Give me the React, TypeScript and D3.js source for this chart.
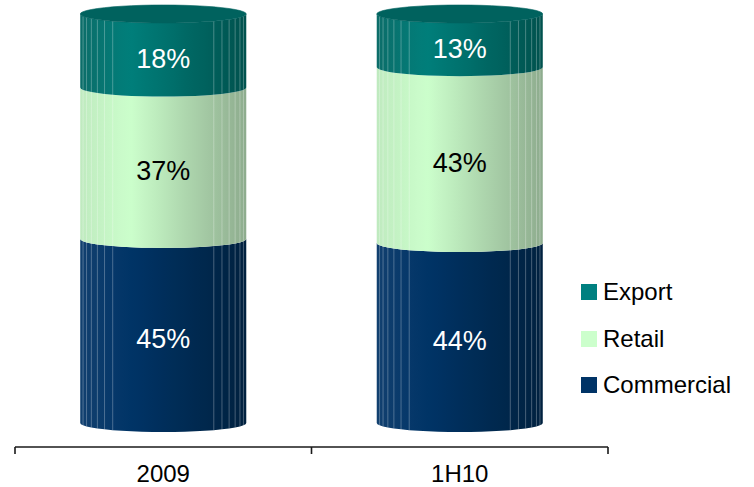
import React from "react";
import * as d3 from "d3";

// Share of sales by channel, in percent
const categories = ["2009", "1H10"];
const commercial = [45, 44];
const retail = [37, 43];
const exportShare = [18, 13];

const seriesOrder = ["Commercial", "Retail", "Export"]; // stacked bottom → top
const legendOrder = ["Export", "Retail", "Commercial"];

const W = 754;
const H = 487;
const FONT = "'Liberation Sans', Arial, sans-serif";

type Palette = { base: string; left: string; peak: string; right: string; top: string; label: string };
const palettes: Record<string, Palette> = {
  Export: { base: "#008080", left: "#0b6d69", peak: "#007f7b", right: "#00524e", top: "#00625e", label: "#ffffff" },
  Retail: { base: "#ccffcc", left: "#bfeabf", peak: "#ccffcc", right: "#8eac8e", top: "#b8e8b8", label: "#000000" },
  Commercial: { base: "#003366", left: "#11406f", peak: "#003467", right: "#00213f", top: "#002c58", label: "#ffffff" },
};

const valuesFor: Record<string, number[]> = {
  Commercial: commercial,
  Retail: retail,
  Export: exportShare,
};

const x = d3.scaleBand<string>().domain(categories).range([15, 608]).padding(0);
const y = d3.scaleLinear().domain([0, 100]).range([423, 14]);

const BAR_FRAC = 0.56;
const RY = 9;
const FACETS = 48;

const stack = d3
  .stack<number>()
  .keys(seriesOrder)
  .value((i, key) => valuesFor[key][i]);
const stacked = stack(d3.range(categories.length));

function shadeScale(p: Palette) {
  return d3
    .scaleLinear<string>()
    .domain([0, 0.3, 1])
    .range([p.left, p.peak, p.right])
    .interpolate(d3.interpolateLab);
}

function Cylinder({ cat, ci }: { cat: string; ci: number }) {
  const bw = x.bandwidth() * BAR_FRAC;
  const cx = (x(cat) ?? 0) + x.bandwidth() / 2;
  const rx = bw / 2;
  const step = (Math.PI * 2) / FACETS;
  const angles = d3.range(FACETS / 2 + 1).map((k) => k * step); // front half, 0..π
  const px = (a: number) => cx + rx * Math.cos(a);
  const py = (a: number, yc: number) => yc + RY * Math.sin(a);

  const defs: React.ReactNode[] = [];
  const pieces: React.ReactNode[] = [];
  const lines: React.ReactNode[] = [];
  const labels: React.ReactNode[] = [];

  stacked.forEach((layer) => {
    const key = layer.key;
    const pal = palettes[key];
    const shade = shadeScale(pal);
    const [v0, v1] = layer[ci];
    const yBot = y(v0);
    const yTop = y(v1);
    const gid = `g-${ci}-${key}`;

    // horizontal shading across the faceted side, one stop per facet edge
    defs.push(
      <linearGradient key={gid} id={gid} gradientUnits="userSpaceOnUse" x1={cx - rx} x2={cx + rx} y1={0} y2={0}>
        {angles
          .slice()
          .reverse()
          .map((a, k) => {
            const t = (1 + Math.cos(a)) / 2;
            return <stop key={k} offset={t} stopColor={shade(t)} />;
          })}
      </linearGradient>
    );

    const topArc = angles.map((a) => [px(a), py(a, yTop)]);
    const botArc = angles.map((a) => [px(a), py(a, yBot)]).reverse();
    const d = "M" + [...topArc, ...botArc].map((p) => p.join(",")).join("L") + "Z";
    pieces.push(<path key={key} d={d} fill={`url(#${gid})`} />);

    // faint facet edges
    angles.forEach((a, k) => {
      const off = Math.min(a, Math.PI - a);
      if (off < step * 1.9 || off > step * 7.1) return;
      lines.push(
        <line
          key={`${key}-l${k}`}
          x1={px(a)}
          x2={px(a)}
          y1={py(a, yTop)}
          y2={py(a, yBot)}
          stroke="#ffffff"
          strokeOpacity={0.28}
          strokeWidth={1}
        />
      );
    });

    const v = v1 - v0;
    labels.push(
      <text
        key={`${key}-t`}
        x={cx}
        y={(yTop + yBot) / 2 + RY * 0.9}
        textAnchor="middle"
        dominantBaseline="central"
        fontFamily={FONT}
        fontSize={27}
        fill={pal.label}
      >
        {`${v}%`}
      </text>
    );
  });

  // top face on the highest segment
  const topLayer = stacked[stacked.length - 1];
  const yTopFace = y(topLayer[ci][1]);
  const ring = d3.range(FACETS).map((k) => [px(k * step), py(k * step, yTopFace)]);

  return (
    <g>
      <defs>{defs}</defs>
      {pieces}
      {lines}
      <polygon
        points={ring.map((p) => p.join(",")).join(" ")}
        fill={palettes[topLayer.key].top}
        stroke={palettes[topLayer.key].top}
        strokeWidth={0.6}
      />
      {labels}
    </g>
  );
}

export default function App() {
  const axisY = 447;
  const [r0, r1] = x.range();
  const tickXs = [r0, ...categories.map((c) => (x(c) ?? 0) + x.bandwidth())];
  const legendX = 581;
  const legendY = [284, 331, 377];

  return (
    <svg
      width={W}
      height={H}
      viewBox={`0 0 ${W} ${H}`}
      style={{ position: "absolute", left: 0, top: 0, background: "#ffffff" }}
    >
      {categories.map((c, i) => (
        <Cylinder key={c} cat={c} ci={i} />
      ))}

      {/* category axis */}
      <line x1={r0} x2={r1} y1={axisY} y2={axisY} stroke="#1a1a1a" strokeWidth={1.6} />
      {tickXs.map((tx, i) => (
        <line key={i} x1={tx} x2={tx} y1={axisY} y2={axisY + 7} stroke="#1a1a1a" strokeWidth={1.6} />
      ))}
      {categories.map((c) => (
        <text
          key={c}
          x={(x(c) ?? 0) + x.bandwidth() / 2}
          y={482}
          textAnchor="middle"
          fontFamily={FONT}
          fontSize={24}
          fill="#000"
        >
          {c}
        </text>
      ))}

      {/* legend */}
      {legendOrder.map((name, i) => (
        <g key={name}>
          <rect x={legendX} y={legendY[i]} width={16} height={16} fill={palettes[name].base} />
          <text x={legendX + 22} y={legendY[i] + 16} fontFamily={FONT} fontSize={24} fill="#000">
            {name}
          </text>
        </g>
      ))}
    </svg>
  );
}
